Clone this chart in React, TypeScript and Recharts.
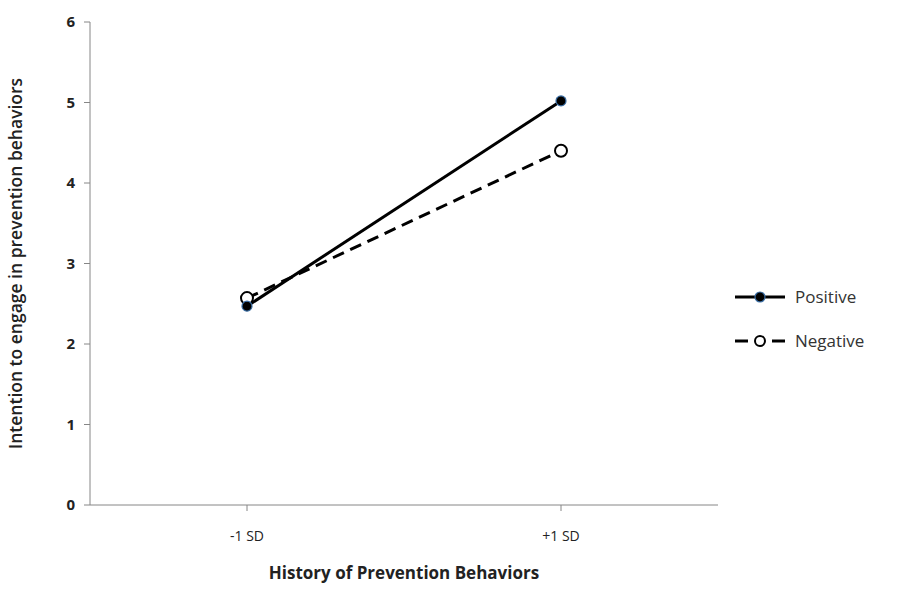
import { LineChart, Line, XAxis, YAxis, Legend } from "recharts";

// history of prevention behaviors (x categories)
const categories = ["-1 SD", "+1 SD"];
// intention values
const positive = [2.47, 5.02];
const negative = [2.57, 4.4];
const yTicks = [0, 1, 2, 3, 4, 5, 6];

const data = categories.map((c, i) => ({
  name: c,
  Positive: positive[i],
  Negative: negative[i],
}));

const FONT = "'Open Sans', 'DejaVu Sans', sans-serif";

function LegendBox() {
  return (
    <svg width={180} height={70} style={{ display: "block" }}>
      <g transform="translate(0,14)">
        <line x1={2} y1={0} x2={52} y2={0} stroke="#000" strokeWidth={3} />
        <circle cx={27} cy={0} r={5} fill="#000" stroke="#3a6ea5" strokeWidth={1.2} />
        <text x={62} y={6} fontSize={17} fill="#333" fontFamily={FONT}>
          Positive
        </text>
      </g>
      <g transform="translate(0,58)">
        <line x1={2} y1={0} x2={15} y2={0} stroke="#000" strokeWidth={3} />
        <line x1={39} y1={0} x2={52} y2={0} stroke="#000" strokeWidth={3} />
        <circle cx={27} cy={0} r={5} fill="#fff" stroke="#000" strokeWidth={2} />
        <text x={62} y={6} fontSize={17} fill="#333" fontFamily={FONT}>
          Negative
        </text>
      </g>
    </svg>
  );
}

export default function App() {
  return (
    <div style={{ position: "absolute", left: 0, top: 0, width: 917, height: 601, background: "#fff" }}>
      <LineChart
        width={917}
        height={601}
        data={data}
        margin={{ top: 22, right: 199, bottom: 0, left: 0 }}
      >
        <XAxis
          dataKey="name"
          height={96}
          padding={{ left: 157, right: 157 }}
          stroke="#868686"
          tickSize={6}
          tickMargin={20}
          tick={{ fill: "#222", fontSize: 14, fontFamily: FONT }}
          label={{
            value: "History of Prevention Behaviors",
            position: "insideBottom",
            offset: 22,
            fill: "#222",
            fontSize: 17,
            fontWeight: "bold",
            fontFamily: FONT,
          }}
        />
        <YAxis
          width={90}
          domain={[0, 6]}
          ticks={yTicks}
          stroke="#868686"
          tickSize={6}
          tickMargin={9}
          tick={{ fill: "#222", fontSize: 15, fontWeight: "bold", fontFamily: FONT }}
          label={{
            value: "Intention to engage in prevention behaviors",
            angle: -90,
            position: "insideLeft",
            offset: 16,
            fill: "#222",
            fontSize: 17.5,
            fontWeight: 600,
            fontFamily: FONT,
            style: { textAnchor: "middle" },
          }}
        />
        <Legend
          layout="horizontal"
          verticalAlign="middle"
          content={() => <LegendBox />}
          wrapperStyle={{ left: 733, top: 283, right: "auto", bottom: "auto", width: 180 }}
        />
        <Line
          dataKey="Negative"
          stroke="#000"
          strokeWidth={3}
          strokeDasharray="12 7"
          dot={{ r: 6, fill: "#fff", stroke: "#000", strokeWidth: 2, strokeDasharray: "none" }}
          isAnimationActive={false}
        />
        <Line
          dataKey="Positive"
          stroke="#000"
          strokeWidth={3}
          dot={{ r: 5, fill: "#000", stroke: "#3a6ea5", strokeWidth: 1.2 }}
          isAnimationActive={false}
        />
      </LineChart>
    </div>
  );
}
